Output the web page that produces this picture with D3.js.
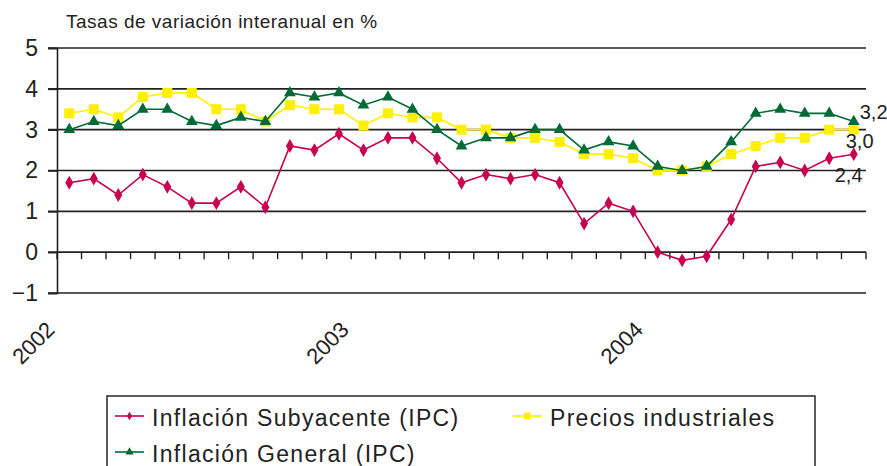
<!DOCTYPE html>
<html>
<head>
<meta charset="utf-8">
<script src="https://cdn.jsdelivr.net/npm/d3@7"></script>
<style>
  html, body { margin: 0; padding: 0; background: #fff; }
  svg { display: block; font-family: "Liberation Sans", Arial, sans-serif; }
</style>
</head>
<body>
<svg id="chart" width="887" height="466"></svg>
<script>
// ---- Data ----
const months = [
  "2002-01","2002-02","2002-03","2002-04","2002-05","2002-06","2002-07","2002-08","2002-09","2002-10","2002-11","2002-12",
  "2003-01","2003-02","2003-03","2003-04","2003-05","2003-06","2003-07","2003-08","2003-09","2003-10","2003-11","2003-12",
  "2004-01","2004-02","2004-03","2004-04","2004-05","2004-06","2004-07","2004-08","2004-09"
];
const subyacente = [1.7,1.8,1.4,1.9,1.6,1.2,1.2,1.6,1.1,2.6,2.5,2.9, 2.5,2.8,2.8,2.3,1.7,1.9,1.8,1.9,1.7,0.7,1.2,1.0, 0.0,-0.2,-0.1,0.8,2.1,2.2,2.0,2.3,2.4];
const general    = [3.0,3.2,3.1,3.5,3.5,3.2,3.1,3.3,3.2,3.9,3.8,3.9, 3.6,3.8,3.5,3.0,2.6,2.8,2.8,3.0,3.0,2.5,2.7,2.6, 2.1,2.0,2.1,2.7,3.4,3.5,3.4,3.4,3.2];
const precios    = [3.4,3.5,3.3,3.8,3.9,3.9,3.5,3.5,3.2,3.6,3.5,3.5, 3.1,3.4,3.3,3.3,3.0,3.0,2.8,2.8,2.7,2.4,2.4,2.3, 2.0,2.0,2.1,2.4,2.6,2.8,2.8,3.0,3.0];
const yearTicks  = [{month:"2002-01", label:"2002"},{month:"2003-01", label:"2003"},{month:"2004-01", label:"2004"}];
const yTicks     = [-1,0,1,2,3,4,5];
const endLabels  = ["3,2","3,0","2,4"];
const title      = "Tasas de variación interanual en %";

// ---- Layout ----
const svg = d3.select("#chart");
const mLeft = 57, mRight = 866, mTop = 48, mBottom = 293;
const x = d3.scaleBand().domain(months).range([mLeft, mRight]).padding(0);
const y = d3.scaleLinear().domain([-1, 5]).range([mBottom, mTop]);

const cRed = "#C8004F", cGreen = "#006B35", cYellow = "#FFEF00";

// title
svg.append("text").attr("x", 66).attr("y", 28)
  .attr("font-size", 19).attr("fill", "#222").attr("letter-spacing", 0.5)
  .text(title);

// gridlines (all except 0)
svg.append("g").selectAll("line").data(yTicks.filter(d => d !== 0)).join("line")
  .attr("x1", mLeft - 9).attr("x2", mRight)
  .attr("y1", d => y(d)).attr("y2", d => y(d))
  .attr("stroke", "#222").attr("stroke-width", 1.6);

// y axis
const yAxis = d3.axisLeft(y).tickValues(yTicks).tickSize(9).tickPadding(10).tickFormat(d3.format("d"));
const gy = svg.append("g").attr("transform", `translate(${mLeft},0)`).call(yAxis);
gy.select(".domain").attr("stroke", "#222").attr("stroke-width", 1.6);
gy.selectAll(".tick line").attr("stroke", "#222").attr("stroke-width", 1.6);
gy.selectAll(".tick text").attr("font-size", 23).attr("fill", "#222")
  .attr("font-family", "Liberation Sans, Arial, sans-serif");

// zero axis with ticks at band edges
const zeroY = y(0);
svg.append("line").attr("x1", mLeft - 9).attr("x2", mRight).attr("y1", zeroY).attr("y2", zeroY)
  .attr("stroke", "#222").attr("stroke-width", 1.6);
const edges = months.map(m => x(m)).concat([x(months[months.length - 1]) + x.bandwidth()]);
svg.append("g").selectAll("line").data(edges).join("line")
  .attr("x1", d => d).attr("x2", d => d).attr("y1", zeroY).attr("y2", zeroY + 7)
  .attr("stroke", "#222").attr("stroke-width", 1.4);

// year labels
svg.append("g").selectAll("text").data(yearTicks).join("text")
  .attr("transform", d => `translate(${x(d.month) - 1},${331}) rotate(-45)`)
  .attr("text-anchor", "end").attr("font-size", 22).attr("fill", "#222")
  .text(d => d.label);

// series
const series = [
  {name: "Inflación Subyacente (IPC)", values: subyacente, color: cRed, symbol: d3.symbolDiamond, size: 55, lsize: 22},
  {name: "Precios industriales", values: precios, color: cYellow, symbol: d3.symbolSquare, size: 100, lsize: 45},
  {name: "Inflación General (IPC)", values: general, color: cGreen, symbol: d3.symbolTriangle, size: 60, lsize: 30}
];
const cx = m => x(m) + x.bandwidth() / 2;
const line = d3.line().x((d, i) => cx(months[i])).y(d => y(d));
const drawOrder = [series[1], series[2], series[0]];
drawOrder.forEach(s => {
  const g = svg.append("g");
  g.append("path").attr("d", line(s.values)).attr("fill", "none")
    .attr("stroke", s.color).attr("stroke-width", 1.6);
  g.selectAll("path.m").data(s.values).join("path").attr("class", "m")
    .attr("transform", (d, i) => `translate(${cx(months[i])},${y(d)})`)
    .attr("d", d3.symbol().type(s.symbol).size(s.size))
    .attr("fill", s.color);
});

// end labels
const lastX = cx(months[months.length - 1]);
const lastIdx = months.length - 1;
svg.append("text").attr("x", lastX + 6).attr("y", y(general[lastIdx]) - 3)
  .attr("font-size", 20).attr("fill", "#222").text(endLabels[0]);
svg.append("text").attr("x", lastX - 8).attr("y", y(precios[lastIdx]) + 18)
  .attr("font-size", 20).attr("fill", "#222").text(endLabels[1]);
svg.append("text").attr("x", lastX - 19).attr("y", y(subyacente[lastIdx]) + 28)
  .attr("font-size", 20).attr("fill", "#222").text(endLabels[2]);

// legend
const lg = svg.append("g");
lg.append("rect").attr("x", 107).attr("y", 396).attr("width", 708).attr("height", 90)
  .attr("fill", "#fff").attr("stroke", "#333").attr("stroke-width", 1.6);
const legendPos = [
  {s: series[0], x: 115, y: 416},
  {s: series[1], x: 513, y: 416},
  {s: series[2], x: 115, y: 452}
];
legendPos.forEach(p => {
  lg.append("line").attr("x1", p.x).attr("x2", p.x + 29).attr("y1", p.y).attr("y2", p.y)
    .attr("stroke", p.s.color).attr("stroke-width", 1.6);
  lg.append("path").attr("transform", `translate(${p.x + 14.5},${p.y})`)
    .attr("d", d3.symbol().type(p.s.symbol).size(p.s.lsize)).attr("fill", p.s.color);
  lg.append("text").attr("x", p.x + 37).attr("y", p.y + 9.5)
    .attr("font-size", 23).attr("fill", "#222").attr("letter-spacing", 1.3).text(p.s.name);
});
</script>
</body>
</html>
